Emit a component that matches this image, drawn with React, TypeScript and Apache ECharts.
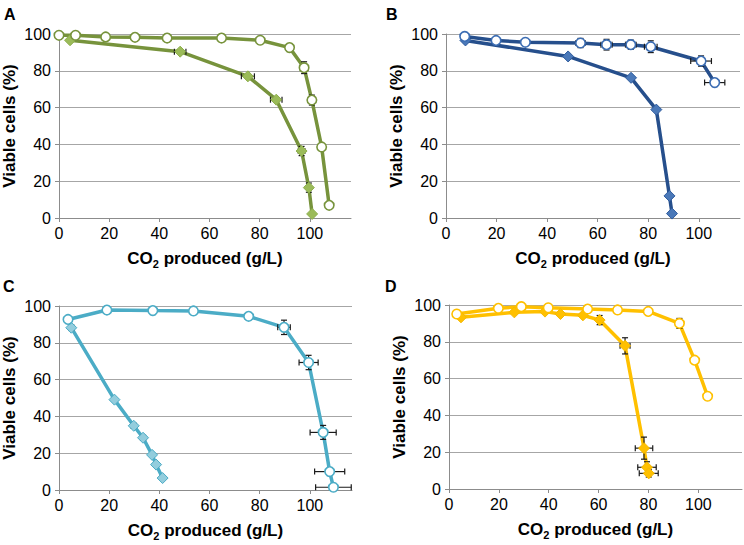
import React, { useEffect, useRef } from "react";
import * as echarts from "echarts";

const FONT = "'Liberation Sans', Arial, Helvetica, sans-serif";

const xTickValues = [0, 20, 40, 60, 80, 100];
const panelLabels = ["A", "B", "C", "D"];
const yAxisTitle = "Viable cells (%)";

// Panel A (green)
const aOpenX = [0, 6.6, 18.6, 30.3, 43.1, 64.8, 80.2, 91.9, 97.7, 100.8, 104.7, 107.7];
const aOpenY = [99.3, 99.3, 98.4, 98.2, 97.8, 97.8, 96.6, 92.6, 81.7, 64.1, 38.6, 6.9];
const aOpenXErr = [0, 0, 0, 0, 0, 0, 0, 0, 0.8, 0.8, 0.8, 0];
const aOpenYErr = [0, 0, 0, 0, 0, 0, 0, 0, 3.2, 2.7, 1.5, 0];
const aFillX = [4.4, 48.3, 75.3, 86.6, 96.7, 99.6, 100.9];
const aFillY = [96.6, 90.4, 77, 64.3, 36.4, 16.5, 2.2];
const aFillXErr = [0, 2.3, 2.6, 2.3, 1.3, 0.5, 0];
const aFillYErr = [0, 1, 1, 1, 2.5, 2.5, 0];

// Panel B (blue)
const bOpenX = [7.4, 19.8, 31.4, 53.2, 63.5, 73.1, 81, 100.9, 106.3];
const bOpenY = [98.7, 96.5, 95.5, 95.1, 94.2, 94.2, 93.1, 85.3, 73.6];
const bOpenXErr = [0, 0, 0, 1.8, 2.2, 2.1, 2.5, 4.1, 4];
const bOpenYErr = [0, 0, 0, 2.5, 2.9, 2.5, 3.2, 2.8, 0];
const bFillX = [7.7, 48.3, 73.2, 83.2, 88.4, 89.4];
const bFillY = [96.5, 87.8, 76.2, 58.9, 12, 2.4];
const bFillXErr = [0, 0, 0, 0, 0, 0];
const bFillYErr = [0, 0, 0, 0, 0, 0];

// Panel C (teal)
const cOpenX = [3.6, 19.1, 37.4, 53.6, 75.6, 89.7, 99.5, 105.3, 107.9, 109.4];
const cOpenY = [92.7, 97.8, 97.5, 97.3, 94.4, 88.4, 69.3, 31.3, 10, 1.5];
const cOpenXErr = [0, 0, 0, 0, 1.5, 2.5, 3.8, 5.2, 6, 7.1];
const cOpenYErr = [0, 0, 0, 0, 1, 3.9, 3.9, 3.8, 0, 0];
const cFillX = [4.9, 22.1, 29.8, 33.5, 37.1, 38.7, 41.3];
const cFillY = [88.2, 49.1, 34.9, 28.4, 19.1, 13.8, 6.5];
const cFillXErr = [0, 0, 1, 1, 0.6, 0, 0];
const cFillYErr = [1.5, 0, 1.2, 1, 0.8, 0, 0];

// Panel D (gold)
const dOpenX = [3.1, 19.8, 29, 39.8, 55.6, 67.6, 79.9, 92.4, 98.5, 103.7];
const dOpenY = [95.1, 98.2, 99.1, 98.5, 97.8, 97.3, 96.5, 90, 70, 50.4];
const dOpenXErr = [0, 0, 0, 0, 0, 0, 0, 1, 0, 0];
const dOpenYErr = [0, 0, 0, 0, 0, 0, 0, 2.7, 0, 0];
const dFillX = [4.8, 26.2, 38.5, 44.7, 53.7, 60.4, 70.6, 78.2, 79.4, 80.1];
const dFillY = [93.3, 96, 96.4, 95.1, 94.4, 91.8, 77.8, 22.2, 11.8, 8.5];
const dFillXErr = [0, 0, 0, 0, 0, 1, 2, 3.5, 3.7, 3.8];
const dFillYErr = [0, 0, 0, 0, 0, 2.5, 4.4, 6, 3, 2];

type Panel = {
  openX: number[]; openY: number[]; openXErr: number[]; openYErr: number[];
  fillX: number[]; fillY: number[]; fillXErr: number[]; fillYErr: number[];
  line: string; openBorder: string; fill: string; fillBorder: string;
  grid: { left: number; top: number; width: number; height: number };
  xMax: number;
  labelPos: [number, number];
};

const panels: Panel[] = [
  {
    openX: aOpenX, openY: aOpenY, openXErr: aOpenXErr, openYErr: aOpenYErr,
    fillX: aFillX, fillY: aFillY, fillXErr: aFillXErr, fillYErr: aFillYErr,
    line: "#77933C", openBorder: "#77933C", fill: "#9BBB59", fillBorder: "#8DAE4C",
    grid: { left: 59, top: 34, width: 292, height: 184 }, xMax: 116.4,
    labelPos: [4, 6],
  },
  {
    openX: bOpenX, openY: bOpenY, openXErr: bOpenXErr, openYErr: bOpenYErr,
    fillX: bFillX, fillY: bFillY, fillXErr: bFillXErr, fillYErr: bFillYErr,
    line: "#264F8C", openBorder: "#3C6DB3", fill: "#4A78B8", fillBorder: "#2F5C9E",
    grid: { left: 446, top: 34, width: 294, height: 184 }, xMax: 116.3,
    labelPos: [386, 6],
  },
  {
    openX: cOpenX, openY: cOpenY, openXErr: cOpenXErr, openYErr: cOpenYErr,
    fillX: cFillX, fillY: cFillY, fillXErr: cFillXErr, fillYErr: cFillYErr,
    line: "#4BACC6", openBorder: "#4BACC6", fill: "#93CDDD", fillBorder: "#4BACC6",
    grid: { left: 58, top: 306, width: 294, height: 184 }, xMax: 116.8,
    labelPos: [3, 278],
  },
  {
    openX: dOpenX, openY: dOpenY, openXErr: dOpenXErr, openYErr: dOpenYErr,
    fillX: dFillX, fillY: dFillY, fillXErr: dFillXErr, fillYErr: dFillYErr,
    line: "#FFC000", openBorder: "#FFC000", fill: "#FFC000", fillBorder: "#F5B800",
    grid: { left: 449, top: 305, width: 293, height: 184 }, xMax: 117.5,
    labelPos: [385, 278],
  },
];

function zip(xs: number[], ys: number[]) {
  return xs.map((x, i) => [x, ys[i]]);
}

function errData(xs: number[], ys: number[], ex: number[], ey: number[]) {
  const out: number[][] = [];
  xs.forEach((x, i) => {
    if (ex[i] > 0 || ey[i] > 0) out.push([x, ys[i], ex[i], ey[i]]);
  });
  return out;
}

const errRender = (params: any, api: any) => {
  const x = api.value(0);
  const y = api.value(1);
  const ex = api.value(2);
  const ey = api.value(3);
  const style = { stroke: "#1a1a1a", lineWidth: 1.2 };
  const cap = 3;
  const children: any[] = [];
  if (ex > 0) {
    const l = api.coord([x - ex, y]);
    const r = api.coord([x + ex, y]);
    children.push({ type: "line", shape: { x1: l[0], y1: l[1], x2: r[0], y2: r[1] }, style });
    children.push({ type: "line", shape: { x1: l[0], y1: l[1] - cap, x2: l[0], y2: l[1] + cap }, style });
    children.push({ type: "line", shape: { x1: r[0], y1: r[1] - cap, x2: r[0], y2: r[1] + cap }, style });
  }
  if (ey > 0) {
    const t = api.coord([x, y + ey]);
    const b = api.coord([x, y - ey]);
    children.push({ type: "line", shape: { x1: t[0], y1: t[1], x2: b[0], y2: b[1] }, style });
    children.push({ type: "line", shape: { x1: t[0] - cap, y1: t[1], x2: t[0] + cap, y2: t[1] }, style });
    children.push({ type: "line", shape: { x1: b[0] - cap, y1: b[1], x2: b[0] + cap, y2: b[1] }, style });
  }
  return { type: "group", children };
};

export default function App() {
  const ref = useRef<HTMLDivElement>(null);
  useEffect(() => {
    if (!ref.current) return;
    const chart = echarts.init(ref.current, undefined, { renderer: "svg" });
    const grids: any[] = [];
    const xAxes: any[] = [];
    const yAxes: any[] = [];
    const series: any[] = [];
    const graphics: any[] = [];
    panels.forEach((p, i) => {
      grids.push({ ...p.grid, containLabel: false });
      xAxes.push({
        type: "value",
        gridIndex: i,
        min: 0,
        max: p.xMax,
        axisLine: { show: true, lineStyle: { color: "#8C8C8C", width: 1 } },
        axisTick: { show: true, length: 4, customValues: xTickValues, lineStyle: { color: "#8C8C8C" } },
        axisLabel: { customValues: xTickValues, fontSize: 16, color: "#000", fontFamily: FONT, margin: 7 },
        splitLine: { show: false },
        name: "{a|CO}{s|2}{a| produced (g/L)}",
        nameLocation: "middle",
        nameGap: 30,
        nameTextStyle: {
          rich: {
            a: { fontSize: 17, fontWeight: "bold", fontFamily: FONT, color: "#000" },
            s: { fontSize: 11, fontWeight: "bold", fontFamily: FONT, color: "#000", padding: [10, 0, 0, 0] },
          },
        },
      });
      yAxes.push({
        type: "value",
        gridIndex: i,
        min: 0,
        max: 100,
        interval: 20,
        axisLine: { show: true, lineStyle: { color: "#8C8C8C", width: 1 } },
        axisTick: { show: true, length: 4, lineStyle: { color: "#8C8C8C" } },
        axisLabel: { fontSize: 16, color: "#000", fontFamily: FONT, margin: 8 },
        splitLine: { show: true, lineStyle: { color: "#A6A6A6", width: 1 } },
        name: yAxisTitle,
        nameLocation: "middle",
        nameGap: 41,
        nameTextStyle: { fontSize: 17, fontWeight: "bold", fontFamily: FONT, color: "#000" },
      });
      // lines
      series.push({
        type: "line",
        xAxisIndex: i,
        yAxisIndex: i,
        data: zip(p.fillX, p.fillY),
        showSymbol: false,
        symbol: "none",
        lineStyle: { color: p.line, width: 3.5 },
        z: 2,
      });
      series.push({
        type: "line",
        xAxisIndex: i,
        yAxisIndex: i,
        data: zip(p.openX, p.openY),
        showSymbol: false,
        symbol: "none",
        lineStyle: { color: p.line, width: 3.5 },
        z: 2,
      });
      // error bars
      series.push({
        type: "custom",
        xAxisIndex: i,
        yAxisIndex: i,
        renderItem: errRender,
        encode: { x: 0, y: 1 },
        data: errData(p.fillX, p.fillY, p.fillXErr, p.fillYErr).concat(
          errData(p.openX, p.openY, p.openXErr, p.openYErr)
        ),
        z: 3,
        silent: true,
      });
      // markers
      series.push({
        type: "scatter",
        xAxisIndex: i,
        yAxisIndex: i,
        data: zip(p.fillX, p.fillY),
        symbol: "diamond",
        symbolSize: 11,
        itemStyle: { color: p.fill, borderColor: p.fillBorder, borderWidth: 1, opacity: 1 },
        z: 4,
      });
      series.push({
        type: "scatter",
        xAxisIndex: i,
        yAxisIndex: i,
        data: zip(p.openX, p.openY),
        symbol: "circle",
        symbolSize: 9.5,
        itemStyle: { color: "#FFFFFF", borderColor: p.openBorder, borderWidth: 1.6, opacity: 1 },
        z: 5,
      });
      graphics.push({
        type: "text",
        left: p.labelPos[0],
        top: p.labelPos[1],
        style: { text: panelLabels[i], fontSize: 16, fontWeight: "bold", fontFamily: FONT, fill: "#000" },
      });
    });
    chart.setOption({
      animation: false,
      backgroundColor: "#FFFFFF",
      grid: grids,
      xAxis: xAxes,
      yAxis: yAxes,
      series,
      graphic: graphics,
    });
    return () => chart.dispose();
  }, []);
  return (
    <div
      ref={ref}
      style={{ position: "absolute", left: 0, top: 0, width: 744, height: 545, background: "#fff" }}
    />
  );
}
